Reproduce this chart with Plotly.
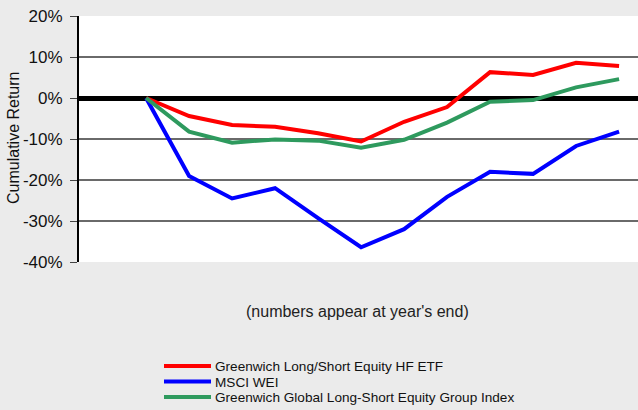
import plotly.graph_objects as go

periods = list(range(12))
etf = [0, -4.4, -6.6, -7.0, -8.6, -10.6, -5.8, -2.2, 6.3, 5.6, 8.6, 7.8]
msci = [0, -19.0, -24.5, -22.0, -29.3, -36.4, -32.0, -24.1, -18.0, -18.5, -11.7, -8.2]
group_idx = [0, -8.2, -10.9, -10.1, -10.4, -12.1, -10.2, -6.0, -0.9, -0.5, 2.6, 4.6]
y_ticks = [20, 10, 0, -10, -20, -30, -40]
dark_grid = [-10, -20]

names = ["Greenwich Long/Short Equity HF ETF", "MSCI WEI",
         "Greenwich Global Long-Short Equity Group Index"]
colors = ["#ff0000", "#0000ff", "#2e9a5e"]

font = "Liberation Sans, Arial, sans-serif"
W, H, L, T, B = 638, 410, 79, 16, 262
PW, PH = W - L, B - T

def px(x):
    return (x - L) / PW

def py(y):
    return (B - y) / PH

fig = go.Figure()
annotations = [
    dict(text="(numbers appear at year's end)", x=px(357), y=py(311),
         xanchor="center", yanchor="middle", xref="paper", yref="paper",
         showarrow=False, font=dict(size=16, family=font, color="#222")),
    dict(text="Cumulative Return", x=px(13), y=py(138), xanchor="center",
         yanchor="middle", xref="paper", yref="paper", showarrow=False,
         textangle=-90, font=dict(size=16, family=font, color="#111")),
]
shapes = [dict(type="line", xref="paper", yref="y", x0=0, x1=1, y0=g, y1=g,
               layer="below", line=dict(color="#000", width=1.2))
          for g in dark_grid]
legend_rows = [366, 381.5, 397]
for name, vals, c, ry in zip(names, [etf, msci, group_idx], colors, legend_rows):
    fig.add_trace(go.Scatter(x=periods, y=vals, mode="lines", name=name,
                             showlegend=False, line=dict(color=c, width=4)))
    shapes.append(dict(type="line", xref="paper", yref="paper",
                       x0=px(164), x1=px(211), y0=py(ry), y1=py(ry),
                       line=dict(color=c, width=4)))
    annotations.append(dict(text=name, x=px(213), y=py(ry + 0.5), xanchor="left",
                            yanchor="middle", xref="paper", yref="paper",
                            showarrow=False,
                            font=dict(size=13.6, family=font, color="#111")))

fig.update_layout(
    width=W, height=H,
    margin=dict(l=L, r=0, t=T, b=H - B, autoexpand=False),
    paper_bgcolor="#ebebeb", plot_bgcolor="#ffffff",
    font=dict(family=font, color="#000"),
    showlegend=False,
    xaxis=dict(range=[-1.56, 11.44], showticklabels=False, showgrid=False,
               zeroline=False, showline=False, ticks="", automargin=False),
    yaxis=dict(range=[-40, 20], tickvals=y_ticks,
               ticktext=[f"{v}%" for v in y_ticks],
               showgrid=True, gridcolor="#6a6a6a", gridwidth=1.5,
               zeroline=True, zerolinecolor="#000", zerolinewidth=5,
               showline=True, linecolor="#000", linewidth=2,
               ticks="outside", ticklen=7, tickcolor="#444",
               ticklabelstandoff=4, automargin=False,
               tickfont=dict(size=17, family=font, color="#111")),
    annotations=annotations,
    shapes=shapes,
)
fig.write_html("out.html", config={"displayModeBar": False},
               post_script="document.body.style.margin='0';")
